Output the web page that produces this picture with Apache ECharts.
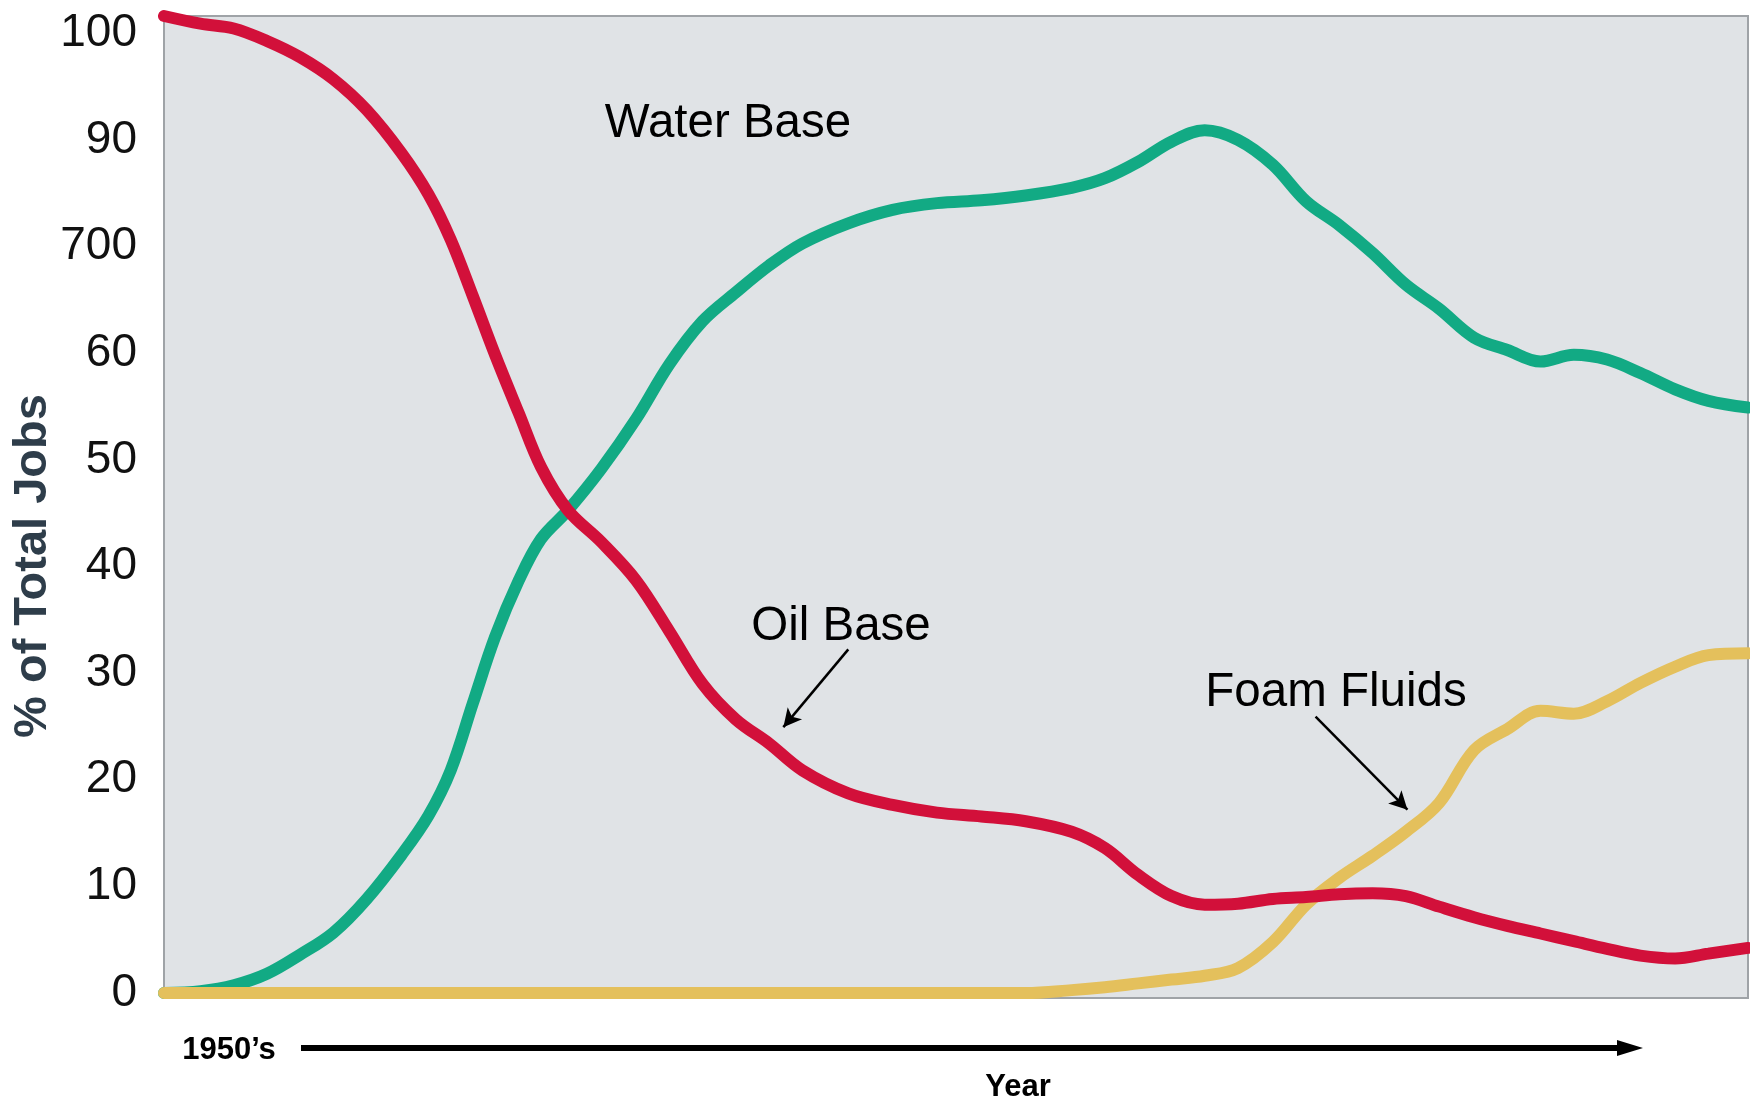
<!DOCTYPE html>
<html>
<head>
<meta charset="utf-8">
<title>Fluid types - % of total jobs</title>
<script src="https://cdn.jsdelivr.net/npm/echarts@6/dist/echarts.min.js"></script>
<style>
  html, body { margin: 0; padding: 0; background: #fff; }
  #chart { width: 1750px; height: 1102px; }
</style>
</head>
<body>
<div id="chart"></div>
<script>
// position along the time axis (0 = 1950's, 100 = right edge)
var steps = [0, 2.3, 4.4, 6.5, 8.6, 10.7, 12.8, 15.0, 16.7, 18.1, 19.5, 20.9, 22.4, 23.8,
  25.5, 27.6, 29.8, 31.9, 34.0, 36.1, 38.2, 40.3, 43.2, 46.0, 48.8, 51.6, 54.4, 57.3,
  59.4, 61.5, 63.6, 65.7, 67.8, 70.0, 72.1, 74.2, 76.3, 78.4, 80.5, 82.7, 84.8, 86.9,
  89.0, 91.1, 93.2, 95.4, 97.5, 100]

var waterBase = [0, 0.2, 0.8, 2.0, 4.0, 6.3, 9.8, 14.4, 18.5, 23.2, 30.2, 37.1, 43.0, 47.3,
  50.3, 54.6, 59.8, 65.5, 70.0, 73.0, 75.8, 78.1, 80.2, 81.6, 82.3, 82.6, 83.1, 83.9,
  84.9, 86.6, 88.7, 89.9, 88.9, 86.3, 82.5, 80.0, 77.1, 73.8, 71.3, 68.3, 67.0, 65.8,
  66.5, 66.0, 64.6, 62.9, 61.7, 61.0]

var oilBase = [101.8, 101.0, 100.5, 99.2, 97.5, 95.2, 92.0, 87.5, 83.2, 78.5, 72.6, 66.5, 60.4, 54.8,
  50.3, 47.0, 43.0, 37.7, 32.2, 28.5, 26.0, 23.2, 20.8, 19.6, 18.8, 18.4, 17.9, 16.8,
  15.1, 12.3, 10.1, 9.2, 9.3, 9.8, 10.0, 10.3, 10.4, 10.1, 9.0, 7.9, 7.0, 6.2,
  5.4, 4.6, 3.9, 3.6, 4.1, 4.7]

var foamFluids = [0, 0, 0, 0, 0, 0, 0, 0, 0, 0, 0, 0, 0, 0,
  0, 0, 0, 0, 0, 0, 0, 0, 0, 0, 0, 0, 0, 0.3,
  0.6, 1.0, 1.4, 1.8, 2.6, 5.3, 9.2, 12.0, 14.3, 16.8, 19.8, 25.3, 27.5, 29.4,
  29.1, 30.4, 32.3, 34.0, 35.2, 35.4]

// the printed tick labels (as they appear on the original, evenly spaced)
var tickLabels = ['0', '10', '20', '30', '40', '50', '60', '700', '90', '100']

var FONT = '"Liberation Sans", Arial, sans-serif'

function pairs(vals) {
  return steps.map(function (x, i) { return [x, vals[i]] })
}

var tickPos = tickLabels.map(function (t, i) { return i * 100 / (tickLabels.length - 1) })

var chart = echarts.init(document.getElementById('chart'), null, { renderer: 'canvas' })

var lineBase = {
  type: 'line',
  smooth: 0.35,
  showSymbol: false,
  clip: false,
  silent: true
}

chart.setOption({
  animation: false,
  backgroundColor: '#ffffff',
  grid: {
    left: 164, right: 2, top: 16, bottom: 104,
    show: true,
    backgroundColor: '#e0e3e6',
    borderColor: '#9fa3a7',
    borderWidth: 2
  },
  xAxis: {
    type: 'value',
    min: 0, max: 100,
    axisLine: { show: false },
    axisTick: { show: false },
    axisLabel: { show: false },
    splitLine: { show: false }
  },
  yAxis: {
    type: 'value',
    min: -0.52, max: 101.8,
    axisLine: { show: false },
    axisTick: { show: false },
    splitLine: { show: false },
    axisLabel: {
      customValues: tickPos,
      margin: 27,
      fontSize: 46,
      color: '#111',
      fontFamily: FONT,
      formatter: function (v) {
        return tickLabels[Math.round(v * (tickLabels.length - 1) / 100)]
      }
    }
  },
  series: [
    Object.assign({}, lineBase, {
      name: 'Water Base',
      data: pairs(waterBase),
      lineStyle: { color: '#12aa84', width: 12, cap: 'round' }
    }),
    Object.assign({}, lineBase, {
      name: 'Foam Fluids',
      data: pairs(foamFluids),
      lineStyle: { color: '#e4c05c', width: 12, cap: 'round' },
      markLine: {
        silent: true,
        symbol: ['none', 'arrow'],
        symbolSize: [14, 18],
        label: { show: false },
        lineStyle: { color: '#000', width: 2.5, type: 'solid' },
        data: [[{ coord: [72.7, 28.8] }, { coord: [78.5, 19.1] }]]
      }
    }),
    Object.assign({}, lineBase, {
      name: 'Oil Base',
      data: pairs(oilBase),
      lineStyle: { color: '#d2103a', width: 12, cap: 'round' },
      markLine: {
        silent: true,
        symbol: ['none', 'arrow'],
        symbolSize: [14, 18],
        label: { show: false },
        lineStyle: { color: '#000', width: 2.5, type: 'solid' },
        data: [[{ coord: [43.2, 35.8] }, { coord: [39.1, 27.7] }]]
      }
    })
  ],
  graphic: [
    {
      type: 'text', x: 33, y: 566, rotation: Math.PI / 2,
      style: {
        text: '% of Total Jobs', fill: '#2e3d4a',
        font: 'bold 47px ' + FONT, align: 'center', verticalAlign: 'middle'
      }
    },
    {
      type: 'text', x: 728, y: 124,
      style: { text: 'Water Base', fill: '#000', font: '47.5px ' + FONT, align: 'center', verticalAlign: 'middle' }
    },
    {
      type: 'text', x: 841, y: 627,
      style: { text: 'Oil Base', fill: '#000', font: '47.5px ' + FONT, align: 'center', verticalAlign: 'middle' }
    },
    {
      type: 'text', x: 1336, y: 693,
      style: { text: 'Foam Fluids', fill: '#000', font: '47.5px ' + FONT, align: 'center', verticalAlign: 'middle' }
    },
    {
      type: 'text', x: 229, y: 1050,
      style: { text: '1950’s', fill: '#000', font: 'bold 31px ' + FONT, align: 'center', verticalAlign: 'middle' }
    },
    {
      type: 'line',
      shape: { x1: 301, y1: 1048, x2: 1620, y2: 1048 },
      style: { stroke: '#000', lineWidth: 6 }
    },
    {
      type: 'polygon',
      shape: { points: [[1617, 1040], [1643, 1048], [1617, 1056]] },
      style: { fill: '#000' }
    },
    {
      type: 'text', x: 1018, y: 1087,
      style: { text: 'Year', fill: '#000', font: 'bold 31px ' + FONT, align: 'center', verticalAlign: 'middle' }
    }
  ]
})
</script>
</body>
</html>
